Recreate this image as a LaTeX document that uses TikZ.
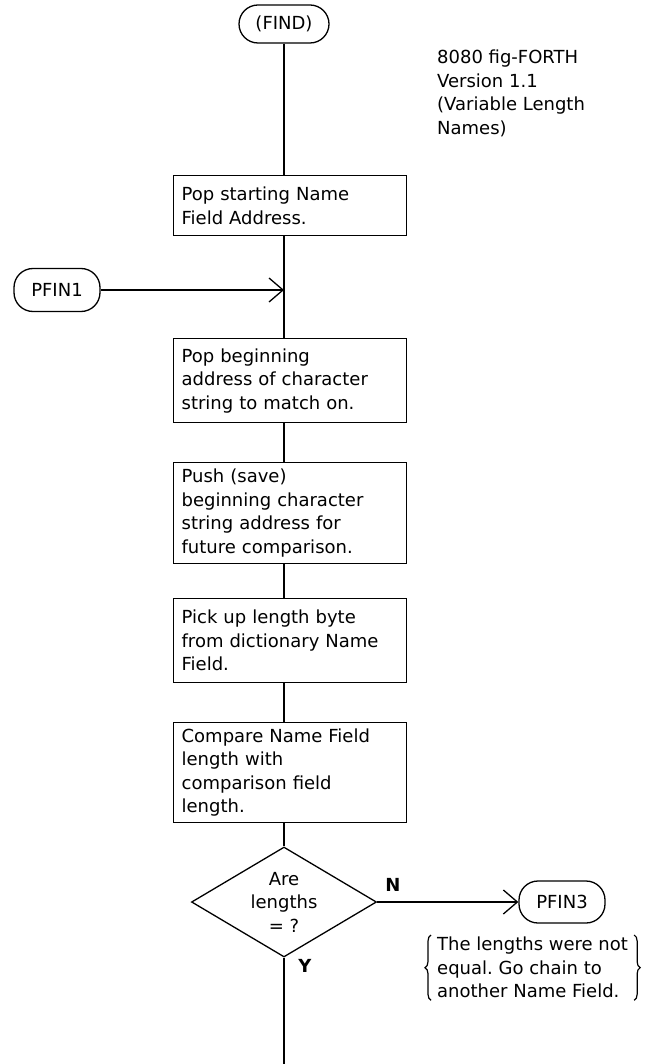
\documentclass[tikz,border=0pt]{standalone}
\usepackage{fontspec}
\setmainfont{DejaVu Sans}
\usetikzlibrary{arrows.meta,shapes.geometric,decorations.pathreplacing}
\frenchspacing
\begin{document}
\begin{tikzpicture}[x=1pt,y=-1pt,
  every node/.style={font=\fontsize{18}{23.5}\selectfont},
  line/.style={line width=1.3pt},
  proc/.style={draw,line width=1.3pt,rectangle,anchor=north west,text width=217pt,inner xsep=8pt,inner ysep=3pt,align=left},
  term/.style={draw,line width=1.3pt,rectangle,rounded corners=19pt,minimum height=40pt,inner xsep=8pt},
  arr/.style={line width=1.3pt,-{Straight Barb[length=14pt,width=24pt,line width=1.3pt]}},
  lab/.style={font=\fontsize{18}{23.5}\selectfont\bfseries},
  brc/.style={line width=1.2pt,decorate,decoration={brace,amplitude=6pt}}
]
\useasboundingbox (0,0) rectangle (668,1064);

\node[term,minimum width=90pt,minimum height=38pt] (find) at (284,24) {(FIND)};
\node[anchor=north west,align=left,inner sep=0pt] (title) at (437,50) {8080 fig-FORTH\\Version 1.1\\(Variable Length\\Names)};

\node[proc,minimum height=60pt] (b1) at (173,175) {Pop starting Name\\Field Address.};
\node[term,minimum width=86pt,minimum height=43pt] (pfin1) at (57,290) {PFIN1};
\node[proc,minimum height=84pt] (b2) at (173,338) {Pop beginning\\address of character\\string to match on.};
\node[proc,minimum height=101pt] (b3) at (173,462) {Push (save)\\beginning character\\string address for\\future comparison.};
\node[proc,minimum height=84pt] (b4) at (173,598) {Pick up length byte\\from dictionary Name\\Field.};
\node[proc,minimum height=100pt] (b5) at (173,722) {Compare Name Field\\length with\\comparison field\\length.};
\node[draw,line width=1.3pt,diamond,aspect=1.68,minimum width=185pt,minimum height=110pt,inner sep=0pt,align=center] (dec) at (284,902) {Are\\lengths\\= ?};
\node[term,minimum width=86pt,minimum height=42pt] (pfin3) at (562,902) {PFIN3};
\node[lab] (N) at (393,885) {N};
\node[lab] (Y) at (305,966) {Y};
\node[anchor=north west,align=left,inner xsep=3pt,inner ysep=2pt] (note) at (434,935) {The lengths were not\\equal. Go chain to\\another Name Field.};
\coordinate (bot) at (284,1064);

\draw[brc] ([xshift=-3pt]note.south west) -- ([xshift=-3pt]note.north west);
\draw[brc] ([xshift=3pt]note.north east) -- ([xshift=3pt]note.south east);

\draw[line] (find.south) -- (find.south |- b1.north);
\draw[line] (find.south |- b1.south) -- (find.south |- b2.north);
\draw[arr] (pfin1.east) -- (pfin1.east -| find.south);
\draw[line] (find.south |- b2.south) -- (find.south |- b3.north);
\draw[line] (find.south |- b3.south) -- (find.south |- b4.north);
\draw[line] (find.south |- b4.south) -- (find.south |- b5.north);
\draw[line] (dec.north |- b5.south) -- (dec.north);
\draw[arr] (dec.east) -- (dec.east -| pfin3.west);
\draw[line] (dec.south) -- (bot);
\end{tikzpicture}
\end{document}
